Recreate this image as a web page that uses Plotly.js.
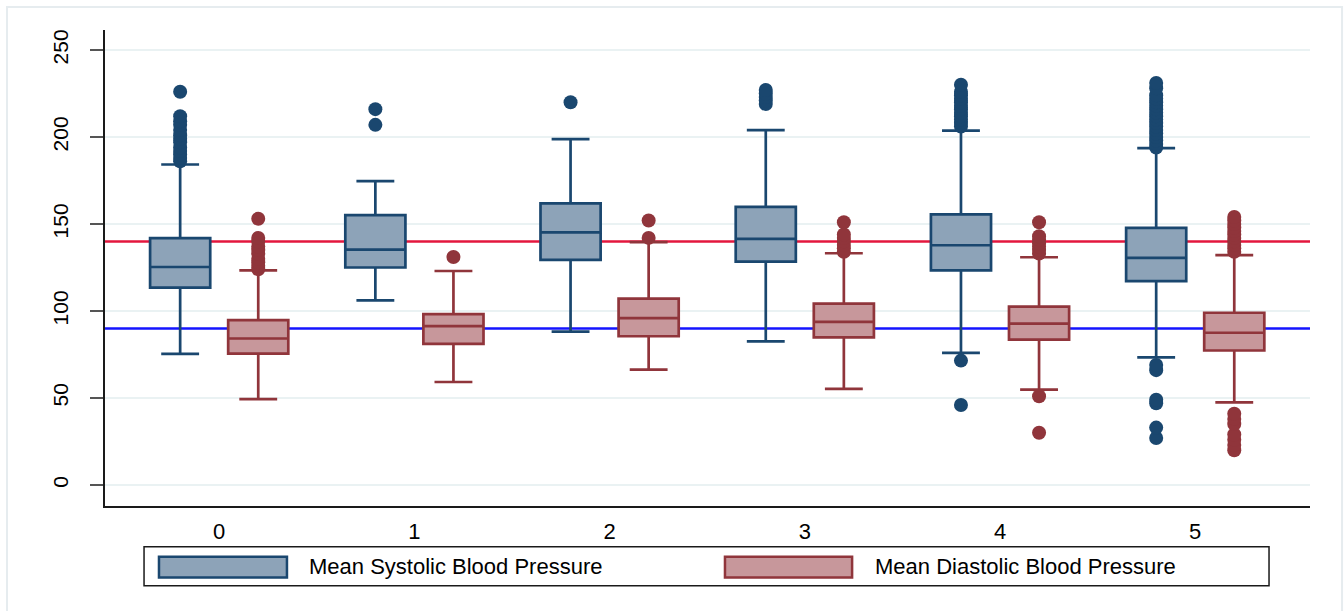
<!DOCTYPE html>
<html>
<head>
<meta charset="utf-8">
<script src="https://cdn.plot.ly/plotly-3.0.1.min.js"></script>
<style>
  html, body { margin: 0; padding: 0; background: #ffffff; }
  #chart { width: 1344px; height: 611px; }
</style>
</head>
<body>
<div id="chart"></div>
<script>
// ---------- data ----------
const categories = [0, 1, 2, 3, 4, 5];
const tickLabels = ['0', '1', '2', '3', '4', '5'];

const seriesNames = ['Mean Systolic Blood Pressure', 'Mean Diastolic Blood Pressure'];

// Systolic box statistics
const sysQ1     = [113.4, 125.0, 129.4, 128.4, 123.4, 117.2];
const sysMedian = [125.3, 135.3, 145.2, 141.5, 137.8, 130.5];
const sysQ3     = [141.9, 155.1, 161.9, 159.9, 155.5, 147.8];
const sysLower  = [75.4, 106.1, 88.1, 82.5, 75.9, 73.4];
const sysUpper  = [184.2, 174.7, 198.8, 204.0, 203.7, 193.6];

// Diastolic box statistics
const diaQ1     = [75.5, 81.1, 85.5, 84.9, 83.6, 77.3];
const diaMedian = [84.2, 91.3, 95.9, 93.8, 92.8, 87.5];
const diaQ3     = [94.8, 98.2, 107.1, 104.2, 102.5, 99.0];
const diaLower  = [49.4, 59.2, 66.3, 55.2, 54.8, 47.5];
const diaUpper  = [123.4, 123.0, 139.6, 133.2, 130.9, 132.1];

// Outside values per category
const sysOutliers = [
  [186, 188, 190, 192, 194, 197, 199, 201, 204, 207, 209, 212, 226],
  [207, 216],
  [220],
  [219, 221, 223, 225, 227],
  [46, 71.5, 206, 208, 210, 212, 214, 216, 218, 220, 222, 224, 226, 230],
  [27, 33, 47, 49, 66, 69, 194, 196, 198, 200, 202, 204, 206, 208, 210, 212, 214, 216, 218, 220, 222, 224, 228, 231]
];
const diaOutliers = [
  [124, 126, 128, 130, 133, 135, 137, 140, 142, 153],
  [131],
  [142, 152],
  [134, 136, 138, 140, 142, 144, 151],
  [30, 51, 133, 135, 137, 139, 141, 143, 151],
  [20, 23, 26, 29, 35, 38, 41, 134, 136, 138, 140, 142, 144, 146, 148, 150, 152, 154]
];

// Reference thresholds
const systolicThreshold = 140;
const diastolicThreshold = 90;

// ---------- styles ----------
const sysLine = '#1A476F', sysFill = '#8DA3B8';
const diaLine = '#90353B', diaFill = '#C7979B';
const FONT = 'Liberation Sans, Arial, Helvetica, sans-serif';

function flatten(groups) {
  const xs = [], ys = [];
  groups.forEach((vals, i) => vals.forEach(v => { xs.push(categories[i]); ys.push(v); }));
  return { x: xs, y: ys };
}
const sysPts = flatten(sysOutliers);
const diaPts = flatten(diaOutliers);

const boxCommon = {
  type: 'box',
  x: categories,
  boxpoints: false,
  whiskerwidth: 0.63,
  showlegend: false,
  hoverinfo: 'skip'
};

const traces = [
  Object.assign({}, boxCommon, {
    name: seriesNames[0],
    q1: sysQ1, median: sysMedian, q3: sysQ3,
    lowerfence: sysLower, upperfence: sysUpper,
    fillcolor: sysFill,
    line: { color: sysLine, width: 2.7 }
  }),
  Object.assign({}, boxCommon, {
    name: seriesNames[1],
    q1: diaQ1, median: diaMedian, q3: diaQ3,
    lowerfence: diaLower, upperfence: diaUpper,
    fillcolor: diaFill,
    line: { color: diaLine, width: 2.7 }
  }),
  {
    type: 'scatter', mode: 'markers', orientation: 'v',
    name: seriesNames[0] + ' outliers',
    x: sysPts.x, y: sysPts.y,
    marker: { color: sysLine, size: 14, line: { width: 0 } },
    showlegend: false, hoverinfo: 'skip'
  },
  {
    type: 'scatter', mode: 'markers', orientation: 'v',
    name: seriesNames[1] + ' outliers',
    x: diaPts.x, y: diaPts.y,
    marker: { color: diaLine, size: 14, line: { width: 0 } },
    showlegend: false, hoverinfo: 'skip'
  }
];

const layout = {
  width: 1344,
  height: 611,
  margin: { l: 105, r: 34, t: 30, b: 105 },
  paper_bgcolor: '#ffffff',
  plot_bgcolor: '#ffffff',
  font: { family: FONT, color: '#000000', size: 20 },
  showlegend: false,
  boxmode: 'group',
  boxgap: 0.2,
  boxgroupgap: 0.23,
  scattermode: 'group',
  scattergap: 0.2,
  xaxis: {
    range: [-0.585, 5.588],
    tickmode: 'array',
    tickvals: categories,
    ticktext: tickLabels,
    showgrid: false,
    zeroline: false,
    showline: true,
    linecolor: '#1a1a1a',
    linewidth: 2,
    ticks: '',
    ticklabelstandoff: 5,
    tickfont: { family: FONT, size: 22, color: '#000' }
  },
  yaxis: {
    range: [-12.07, 261.5],
    tickmode: 'array',
    tickvals: [0, 50, 100, 150, 200, 250],
    ticktext: ['0', '50', '100', '150', '200', '250'],
    tickangle: -90,
    showgrid: true,
    gridcolor: '#EAF2F3',
    gridwidth: 1.5,
    zeroline: false,
    showline: true,
    linecolor: '#1a1a1a',
    linewidth: 2,
    ticks: 'outside',
    ticklen: 13,
    tickwidth: 2,
    tickcolor: '#555555',
    ticklabelstandoff: 14,
    tickfont: { family: FONT, size: 21, color: '#000' }
  },
  shapes: [
    // outer light frame
    { type: 'rect', xref: 'paper', yref: 'paper', x0: -0.0813, x1: 1.0266, y0: -0.235, y1: 1.0483,
      line: { color: '#E6ECEF', width: 2 }, fillcolor: 'rgba(0,0,0,0)', layer: 'below' },
    // reference lines
    { type: 'line', xref: 'paper', x0: 0, x1: 1, yref: 'y', y0: systolicThreshold, y1: systolicThreshold,
      line: { color: '#E3173E', width: 2.5 }, layer: 'between' },
    { type: 'line', xref: 'paper', x0: 0, x1: 1, yref: 'y', y0: diastolicThreshold, y1: diastolicThreshold,
      line: { color: '#1414FF', width: 2.5 }, layer: 'between' },
    // legend frame
    { type: 'rect', xref: 'paper', yref: 'paper', x0: 0.0324, x1: 0.966, y0: -0.1674, y1: -0.0855,
      line: { color: '#1a1a1a', width: 1.5 }, fillcolor: '#ffffff', layer: 'above' },
    // legend swatches
    { type: 'rect', xref: 'paper', yref: 'paper', x0: 0.0448, x1: 0.151, y0: -0.150, y1: -0.1065,
      line: { color: sysLine, width: 2.5 }, fillcolor: sysFill, layer: 'above' },
    { type: 'rect', xref: 'paper', yref: 'paper', x0: 0.5145, x1: 0.620, y0: -0.150, y1: -0.1065,
      line: { color: diaLine, width: 2.5 }, fillcolor: diaFill, layer: 'above' }
  ],
  annotations: [
    { xref: 'paper', yref: 'paper', x: 0.1676, y: -0.128, xanchor: 'left', yanchor: 'middle',
      text: seriesNames[0], showarrow: false, font: { family: FONT, size: 22, color: '#000' } },
    { xref: 'paper', yref: 'paper', x: 0.637, y: -0.128, xanchor: 'left', yanchor: 'middle',
      text: seriesNames[1], showarrow: false, font: { family: FONT, size: 22, color: '#000' } }
  ]
};

Plotly.newPlot('chart', traces, layout, { displayModeBar: false, staticPlot: true });
</script>
</body>
</html>
